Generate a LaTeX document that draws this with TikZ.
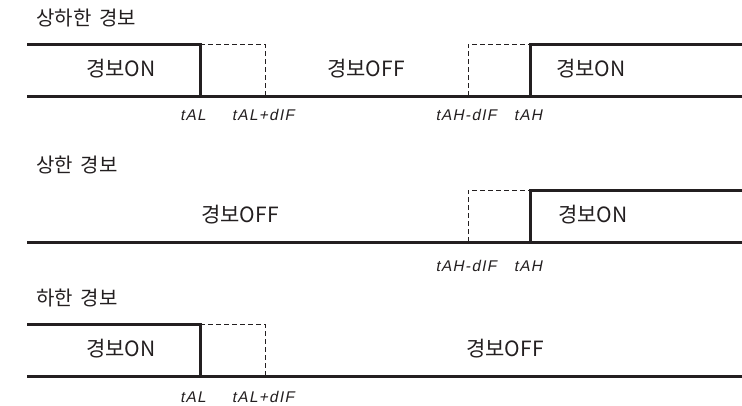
\documentclass[tikz,border=0pt]{standalone}
\usepackage{fontspec}
\setmainfont{Noto Sans CJK KR}
\newfontfamily\segfont[FakeSlant=0.2,LetterSpace=8]{Liberation Sans}
\definecolor{ink}{HTML}{231F20}
\begin{document}
\begin{tikzpicture}[x=1pt,y=-1pt,
  solidline/.style={line width=3pt, draw=ink, line join=miter},
  dashline/.style={line width=1pt, draw=ink, dash pattern=on 5pt off 3pt},
  title/.style={anchor=west, inner sep=0pt, text=ink, font=\fontsize{20}{22}\selectfont},
  state/.style={inner sep=0pt, text=ink, font=\fontsize{21}{24}\selectfont},
  seg/.style={inner sep=0pt, text=ink, font=\segfont\fontsize{15.5}{17}\selectfont}]
\useasboundingbox (0,0) rectangle (742,405);

% ---------- panel 1: 상하한 경보 ----------
\node[title] (t1) at (36,18) {상하한\hspace{0.4em}경보};
\coordinate (p1a) at (27,44);  \coordinate (p1b) at (200,44);  \coordinate (p1c) at (200,96);
\coordinate (p1d) at (265,44); \coordinate (p1e) at (265,96);
\coordinate (p1f) at (468,96); \coordinate (p1g) at (468,44);
\coordinate (p1h) at (530,44); \coordinate (p1i) at (530,96); \coordinate (p1j) at (742,44);
\coordinate (p1k) at (27,96);  \coordinate (p1l) at (742,96);
\draw[dashline] (p1b) -- (p1d) -- (p1e);
\draw[dashline] (p1f) -- (p1g) -- (p1h);
\draw[solidline] (p1a) -- (p1b) -- (p1c);
\draw[solidline] (p1i) -- (p1h) -- (p1j);
\draw[solidline] (p1k) -- (p1l);
\node[state] (s1a) at (121,69) {경보ON};
\node[state] (s1b) at (366,69) {경보OFF};
\node[state] (s1c) at (591,69) {경보ON};
\node[seg] (l1a) at (193,115) {tAL};
\node[seg] (l1b) at (263,115) {tAL+dIF};
\node[seg] (l1c) at (466,115) {tAH-dIF};
\node[seg] (l1d) at (528,115) {tAH};

% ---------- panel 2: 상한 경보 ----------
\node[title] (t2) at (36,165) {상한\hspace{0.4em}경보};
\coordinate (p2f) at (468,242); \coordinate (p2g) at (468,190);
\coordinate (p2h) at (530,190); \coordinate (p2i) at (530,242); \coordinate (p2j) at (742,190);
\coordinate (p2k) at (27,242);  \coordinate (p2l) at (742,242);
\draw[dashline] (p2f) -- (p2g) -- (p2h);
\draw[solidline] (p2i) -- (p2h) -- (p2j);
\draw[solidline] (p2k) -- (p2l);
\node[state] (s2a) at (240,215) {경보OFF};
\node[state] (s2b) at (593,215) {경보ON};
\node[seg] (l2c) at (466,266) {tAH-dIF};
\node[seg] (l2d) at (528,266) {tAH};

% ---------- panel 3: 하한 경보 ----------
\node[title] (t3) at (36,298) {하한\hspace{0.4em}경보};
\coordinate (p3a) at (27,324);  \coordinate (p3b) at (200,324);  \coordinate (p3c) at (200,376);
\coordinate (p3d) at (265,324); \coordinate (p3e) at (265,376);
\coordinate (p3k) at (27,376);  \coordinate (p3l) at (742,376);
\draw[dashline] (p3b) -- (p3d) -- (p3e);
\draw[solidline] (p3a) -- (p3b) -- (p3c);
\draw[solidline] (p3k) -- (p3l);
\node[state] (s3a) at (121,349) {경보ON};
\node[state] (s3b) at (505,349) {경보OFF};
\node[seg] (l3a) at (193,397) {tAL};
\node[seg] (l3b) at (263,397) {tAL+dIF};
\end{tikzpicture}
\end{document}
